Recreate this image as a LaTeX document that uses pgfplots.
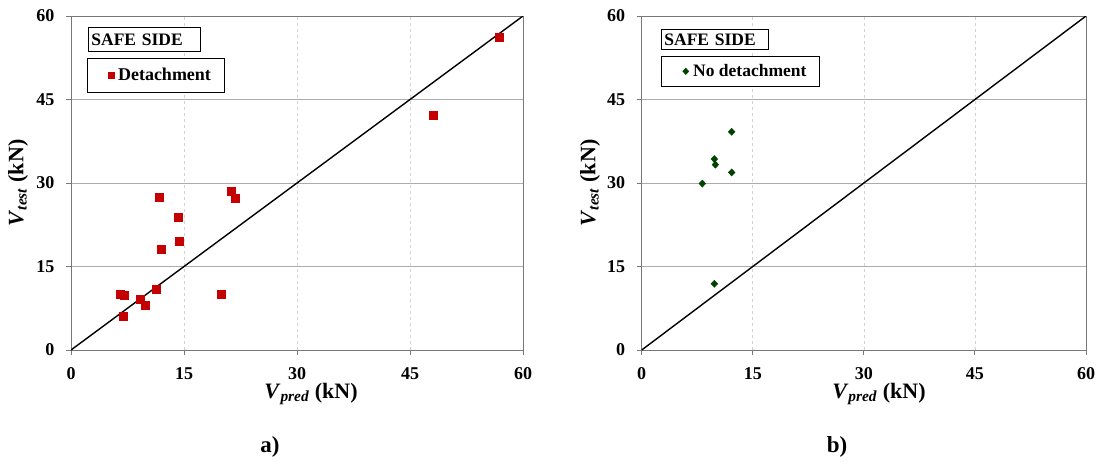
\documentclass[border=0pt]{standalone}
\usepackage{fontspec}
\setmainfont{Liberation Serif}
\usepackage{pgfplots}
\pgfplotsset{compat=1.18}
\definecolor{mred}{RGB}{196,0,0}
\definecolor{mgreen}{RGB}{0,66,0}
\definecolor{axgray}{RGB}{120,120,120}
\begin{document}
\begin{tikzpicture}
\useasboundingbox (0pt,0pt) rectangle (1099pt,-461pt);
\pgfplotsset{
  myaxis/.style={
    scale only axis, height=334pt,
    xmin=0,xmax=60,ymin=0,ymax=60,
    xtick={0,15,30,45,60}, ytick={0,15,30,45,60},
    tick align=outside, xtick pos=bottom, ytick pos=left,
    major tick length=5pt,
    axis line style={draw=axgray, line width=0.9pt},
    tick style={draw=axgray, line width=0.9pt},
    xmajorgrids, ymajorgrids,
    y grid style={gray!65, line width=0.8pt, solid},
    x grid style={gray!35, dashed, line width=0.7pt},
    ticklabel style={font=\fontsize{18}{18}\selectfont\bfseries},
    /pgf/number format/assume math mode=true,
    yticklabel style={xshift=-8pt},
    xticklabel style={yshift=-9pt},
    xlabel={\textit{V}\textsubscript{\textit{pred}} (kN)},
    ylabel={\textit{V}\textsubscript{\textit{test}} (kN)},
    label style={font=\fontsize{22}{22}\selectfont\bfseries},
    ylabel style={at={(axis description cs:-0.117,0.5)}, anchor=center},
    legend cell align=left,
    legend image code/.code={\path (-13pt,0pt) (4pt,0pt); \draw[##1, mark size=3.1pt] plot coordinates {(0pt,0pt)};},
  },
  legimgb/.style={
    legend image code/.code={\path (-13pt,0pt) (5pt,0pt); \draw[##1, mark size=3pt] plot coordinates {(0pt,0pt)};},
  }
}
% ---------- a) ----------
\begin{axis}[myaxis, width=452pt, at={(71pt,-350pt)}, anchor=south west,
  xlabel style={at={(axis description cs:0.531,-0.132)}, anchor=center},
  legend style={at={(axis description cs:0.035,0.874)}, anchor=north west,
    draw=black, line width=0.8pt, inner xsep=11pt, inner ysep=8pt,
    font=\fontsize{18}{18}\selectfont\bfseries},
]
\addplot[black, line width=1.4pt, forget plot] coordinates {(0,0) (60,60)};
\addplot[only marks, mark=square*, mark size=4pt, color=mred, mark options={draw=mred, fill=mred}]
  coordinates {
  (56.85,56.2) (48.07,42.1) (11.7,27.5) (21.2,28.5) (21.8,27.3)
  (14.2,23.9) (14.36,19.5) (11.96,18.1) (11.34,11.0) (19.94,10.1)
  (6.51,10.1) (7.04,9.9) (9.17,9.04) (9.84,8.0) (6.91,6.05)
  };
\addlegendentry{Detachment}
\node[draw=black, line width=0.8pt, fill=white, anchor=north west, inner xsep=3pt, inner ysep=0pt,
  text width=106pt, minimum height=24pt, align=left,
  font=\fontsize{17.5}{17.5}\selectfont\bfseries]
  at (axis description cs:0.0376,0.967) {SAFE SIDE};
\end{axis}
% ---------- b) ----------
\begin{axis}[myaxis, legimgb, width=444.3pt, at={(641.7pt,-350pt)}, anchor=south west,
  xlabel style={at={(axis description cs:0.534,-0.132)}, anchor=center},
  ylabel style={at={(axis description cs:-0.116,0.5)}},
  legend style={at={(axis description cs:0.0434,0.880)}, anchor=north west,
    draw=black, line width=0.8pt, inner xsep=11pt, inner ysep=6pt,
    font=\fontsize{17.5}{17.5}\selectfont\bfseries},
]
\addplot[black, line width=1.4pt, forget plot] coordinates {(0,0) (60,60)};
\addplot[only marks, mark=diamond*, mark size=3.6pt, color=mgreen, mark options={draw=mgreen, fill=mgreen, xscale=1.25}]
  coordinates {
  (12.15,39.2) (9.81,34.3) (9.95,33.3) (12.15,31.9) (8.19,29.9) (9.81,11.9)
  };
\addlegendentry{No detachment}
\node[draw=black, line width=0.8pt, fill=white, anchor=north west, inner xsep=3pt, inner ysep=0pt,
  text width=101pt, minimum height=20pt, align=left,
  font=\fontsize{17.5}{17.5}\selectfont\bfseries]
  at (axis description cs:0.0434,0.961) {SAFE SIDE};
\end{axis}
\node[font=\fontsize{23}{23}\selectfont\bfseries] at (270pt,-447pt) {a)};
\node[font=\fontsize{23}{23}\selectfont\bfseries] at (837pt,-447pt) {b)};
\end{tikzpicture}
\end{document}
